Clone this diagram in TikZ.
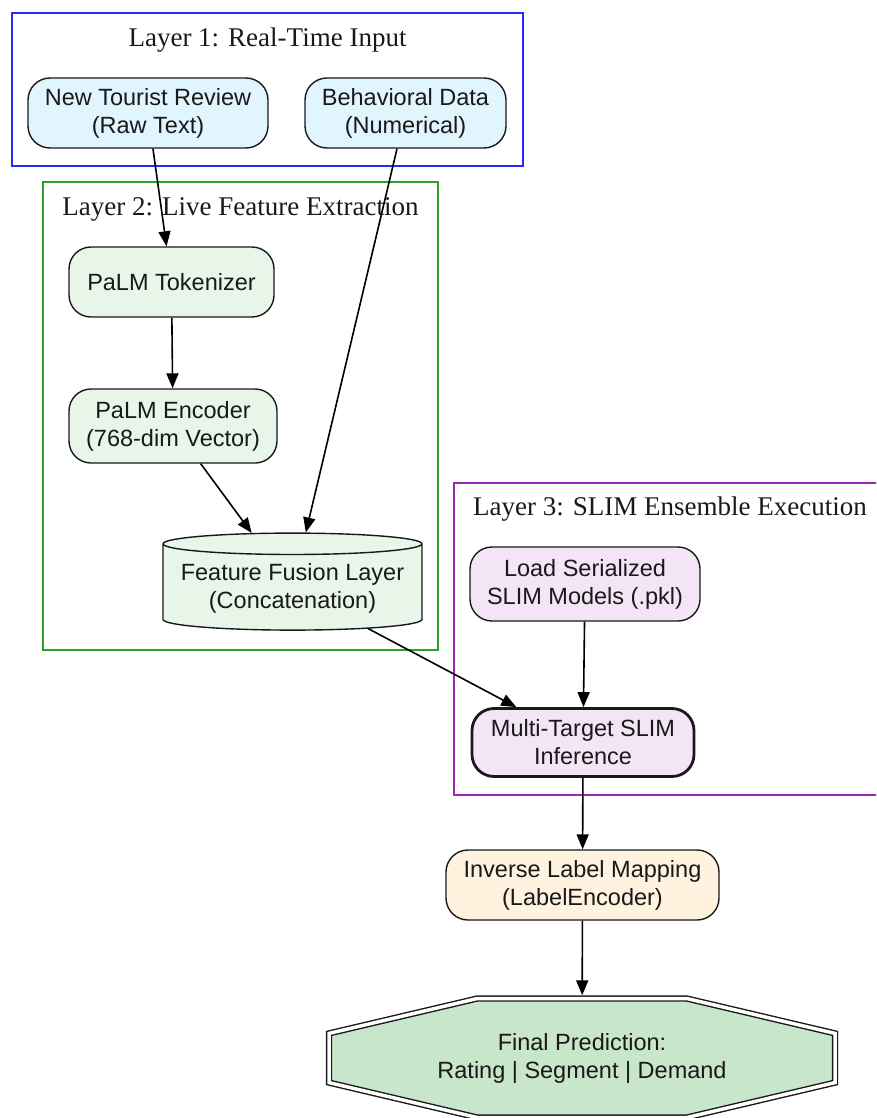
\documentclass[tikz,border=0pt]{standalone}
\usepackage{fontspec}
\setmainfont{Liberation Serif}
\setsansfont{Liberation Sans}
\usetikzlibrary{shapes,arrows.meta,positioning,calc}
\definecolor{inputblue}{HTML}{E1F5FE}
\definecolor{featgreen}{HTML}{E8F5E9}
\definecolor{slimpurple}{HTML}{F3E5F5}
\definecolor{maporange}{HTML}{FFF3E0}
\definecolor{finalgreen}{HTML}{C8E6C9}
\definecolor{clusterblue}{RGB}{40,40,255}
\definecolor{clustergreen}{RGB}{44,160,44}
\definecolor{clusterpurple}{RGB}{156,39,176}
\tikzset{
    block/.style={rectangle, draw=black!90, line width=1.4pt, rounded corners=22pt, align=center, text=black!90, font=\sffamily\fontsize{23.5}{28}\selectfont},
    line/.style={draw, line width=1.6pt, -{Triangle[length=15pt,width=12pt]}},
    storage/.style={cylinder, shape border rotate=90, aspect=0.093, draw=black!90, line width=1.4pt, align=center, text=black!90, font=\sffamily\fontsize{23.5}{28}\selectfont},
    cluster/.style={line width=1.8pt},
    clusterlabel/.style={font=\fontsize{27}{32}\selectfont, text=black!90}
}

\begin{document}
\begin{tikzpicture}[x=1pt, y=-1pt]
    \useasboundingbox (0,0) rectangle (876,1118);
    \clip (0,0) rectangle (876,1118);

    % Layer boxes
    \draw [cluster, clusterblue] (12,13) rectangle (523,166);
    \node [clusterlabel] (l1) at (267.5,40) {Layer 1: Real-Time Input};
    \draw [cluster, clustergreen] (43,182) rectangle (438,650);
    \node [clusterlabel] (l2) at (240.5,209) {Layer 2: Live Feature Extraction};
    \draw [cluster, clusterpurple] (454,483) rectangle (886,795);
    \node [clusterlabel] (l3) at (670,509) {Layer 3: SLIM Ensemble Execution};

    % Input nodes
    \node [block, fill=inputblue, minimum width=240pt, minimum height=70pt] (review) at (148,113) {New Tourist Review\\(Raw Text)};
    \node [block, fill=inputblue, minimum width=201pt, minimum height=70pt] (behav) at (405.5,113) {Behavioral Data\\(Numerical)};

    % Feature extraction
    \node [block, fill=featgreen, minimum width=205pt, minimum height=70pt] (token) at (171.5,282) {PaLM Tokenizer};
    \node [block, fill=featgreen, minimum width=208pt, minimum height=74pt] (encoder) at (173,426) {PaLM Encoder\\(768-dim Vector)};
    \node [storage, fill=featgreen, minimum width=259pt, minimum height=97pt] (fusion) at (292.5,588.5) {Feature Fusion Layer\\(Concatenation)};

    % SLIM ensemble
    \node [block, fill=slimpurple, minimum width=230pt, minimum height=74pt] (load) at (585,584) {Load Serialized\\SLIM Models (.pkl)};
    \node [block, fill=slimpurple, line width=2.8pt, minimum width=222pt, minimum height=68pt] (infer) at (583,742.5) {Multi-Target SLIM\\Inference};

    % Output
    \node [block, fill=maporange, minimum width=273pt, minimum height=70pt] (inverse) at (582.5,885) {Inverse Label Mapping\\(LabelEncoder)};
    \coordinate (finalc) at (582,1058);
    \draw [double=white, double distance=3.5pt, line width=1.4pt, draw=black!90, fill=finalgreen]
        ($(finalc)+(-253,-24.6)$) -- ($(finalc)+(-104.8,-59.5)$) -- ($(finalc)+(104.8,-59.5)$) -- ($(finalc)+(253,-24.6)$)
        -- ($(finalc)+(253,24.6)$) -- ($(finalc)+(104.8,59.5)$) -- ($(finalc)+(-104.8,59.5)$) -- ($(finalc)+(-253,24.6)$) -- cycle;
    \node [align=center, text=black!90, font=\sffamily\fontsize{23.5}{28}\selectfont, minimum width=512pt, minimum height=125pt] (final) at (finalc) {Final Prediction:\\Rating | Segment | Demand};

    % Data flow
    \path [line] (review) -- (token);
    \path [line] (behav) -- (fusion);
    \path [line] (token) -- (encoder);
    \path [line] (encoder) -- (fusion);
    \path [line] (fusion) -- (infer);
    \path [line] (load) -- (infer);
    \path [line] (infer) -- (inverse);
    \path [line] (inverse) -- (final);
\end{tikzpicture}
\end{document}
